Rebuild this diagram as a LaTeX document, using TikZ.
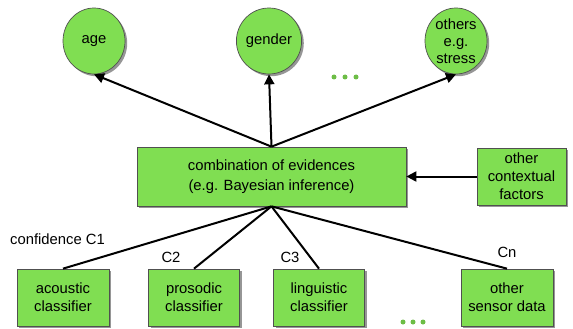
\documentclass[tikz,border=0pt]{standalone}
\usepackage{fontspec}
\setmainfont{Liberation Sans}
\usetikzlibrary{shapes.geometric,shadows,arrows.meta}
\definecolor{boxgreen}{RGB}{128,222,82}
\definecolor{edgegray}{RGB}{80,80,80}
\definecolor{shadowgray}{RGB}{150,150,150}
\tikzset{
  greenfill/.style={fill=boxgreen, draw=edgegray, line width=0.7pt,
    drop shadow={shadow xshift=2.2pt, shadow yshift=-2.2pt, fill=shadowgray, opacity=1}},
  factor/.style={greenfill, ellipse, minimum width=62pt, minimum height=66pt, inner sep=0pt, align=center},
  stepbox/.style={greenfill, rectangle, inner sep=0pt, align=center},
  small/.style={rectangle, inner sep=0pt},
  link/.style={line width=2pt, black},
  arrowlink/.style={link, -{Triangle[length=10pt,width=10pt]}},
  dot/.style={circle, fill=boxgreen!85!black, inner sep=0pt, minimum size=5pt}
}
\begin{document}
\begin{tikzpicture}[x=1pt,y=-1pt,font=\fontsize{14.8}{18}\selectfont]
\useasboundingbox (0,0) rectangle (573,329);

% targets of the inference
\node[factor] (age)    at (94,41)  {age};
\node[factor, font=\fontsize{14.8}{17}\selectfont] (gender) at (269,41) {gender};
\node[factor, font=\fontsize{14.8}{17}\selectfont] (others) at (456,41) {others\\e.g.\\stress};
\node[dot] (d1) at (334,77) {};
\node[dot] (d2) at (345,77) {};
\node[dot] (d3) at (356,77) {};

% fusion stage
\node[stepbox, minimum width=269pt, minimum height=59pt, font=\fontsize{14.8}{20}\selectfont] (comb) at (271.5,176.5)
  {combination of evidences\\(e.g. Bayesian inference)};
\node[stepbox, minimum width=89pt, minimum height=57pt] (ctx) at (521.5,176.5)
  {other\\contextual\\factors};

% classifiers
\node[stepbox, minimum width=92pt, minimum height=57pt] (acou) at (63,297.5)  {acoustic\\classifier};
\node[stepbox, minimum width=91pt, minimum height=57pt] (pros) at (194,297.5) {prosodic\\classifier};
\node[stepbox, minimum width=91pt, minimum height=57pt] (ling) at (319,297.5) {linguistic\\classifier};
\node[stepbox, minimum width=92pt, minimum height=57pt] (sens) at (507,297.5) {other\\sensor data};
\node[dot] (e1) at (403,322) {};
\node[dot] (e2) at (413,322) {};
\node[dot] (e3) at (423,322) {};

% confidence labels
\node[small, anchor=west] (c1) at (10,239) {confidence C1};
\node[small] (c2) at (171,257) {C2};
\node[small] (c3) at (290,257) {C3};
\node[small] (cn) at (507,252) {Cn};

% connectors
\draw[arrowlink] (comb.north) -- (age.south);
\draw[arrowlink] (comb.north) -- (gender.south);
\draw[arrowlink] (comb.north) -- (others.south);
\draw[arrowlink] (ctx.west) -- (comb.east);
\draw[link] (comb.south) -- (acou.north);
\draw[link] (comb.south) -- (pros.north);
\draw[link] (comb.south) -- (ling.north);
\draw[link] (comb.south) -- (sens.north);
\end{tikzpicture}
\end{document}
